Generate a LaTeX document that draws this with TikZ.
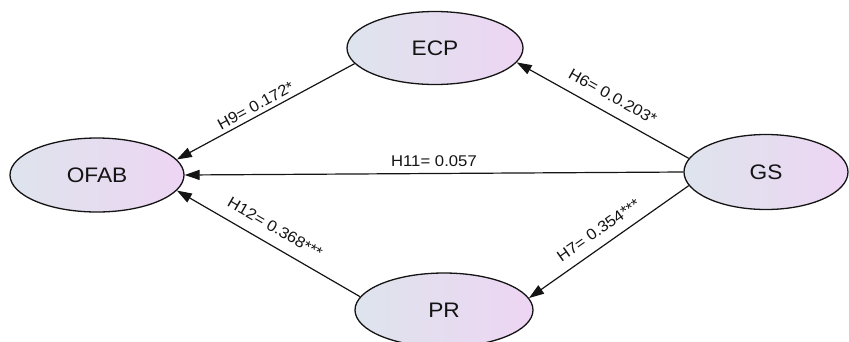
\documentclass[tikz,border=0pt]{standalone}
\usepackage{fontspec}
\setmainfont{Liberation Sans}[FakeStretch=1.08]
\usetikzlibrary{arrows.meta,shapes.geometric}
\definecolor{fillL}{HTML}{DEE4ED}
\definecolor{fillR}{HTML}{EDD5F3}
\definecolor{ink}{HTML}{141414}
\tikzset{
  construct/.style={ellipse, draw=ink, line width=1.3pt, inner sep=0pt,
    left color=fillL, right color=fillR, text=ink,
    font=\fontsize{21}{24}\selectfont},
  path/.style={draw=ink, line width=1.2pt, -{Triangle[length=15pt,width=10pt]}},
  lab/.style={sloped, inner sep=0pt, text=ink, font=\fontsize{15.5}{18}\selectfont}
}
\begin{document}
\begin{tikzpicture}[x=1pt,y=-1pt]
\clip (0,0) rectangle (849,341);
\node[construct, minimum width=174pt, minimum height=74pt] (OFAB) at (97,175) {OFAB};
\node[construct, minimum width=176pt, minimum height=73pt] (ECP) at (435,48) {ECP};
\node[construct, minimum width=164pt, minimum height=75pt] (GS) at (766,172) {GS};
\node[construct, minimum width=178pt, minimum height=74pt] (PR) at (444,310) {PR};
\draw[path] (ECP.191) -- node[lab, pos=0.53, above=4pt] {H9= 0.172*} (OFAB.11);
\draw[path] (GS.170) -- node[lab, pos=0.49, above=11pt] {H6= 0.0.203*} (ECP.-10);
\draw[path] (GS.west) -- node[lab, pos=0.5, above=6.5pt] {H11= 0.057} (OFAB.east);
\draw[path] (PR.171) -- node[lab, pos=0.51, above=11pt] {H12= 0.368***} (OFAB.-11);
\draw[path] (GS.190) -- node[lab, pos=0.51, above=9.5pt] {H7= 0.354***} (PR.8);
\end{tikzpicture}
\end{document}
